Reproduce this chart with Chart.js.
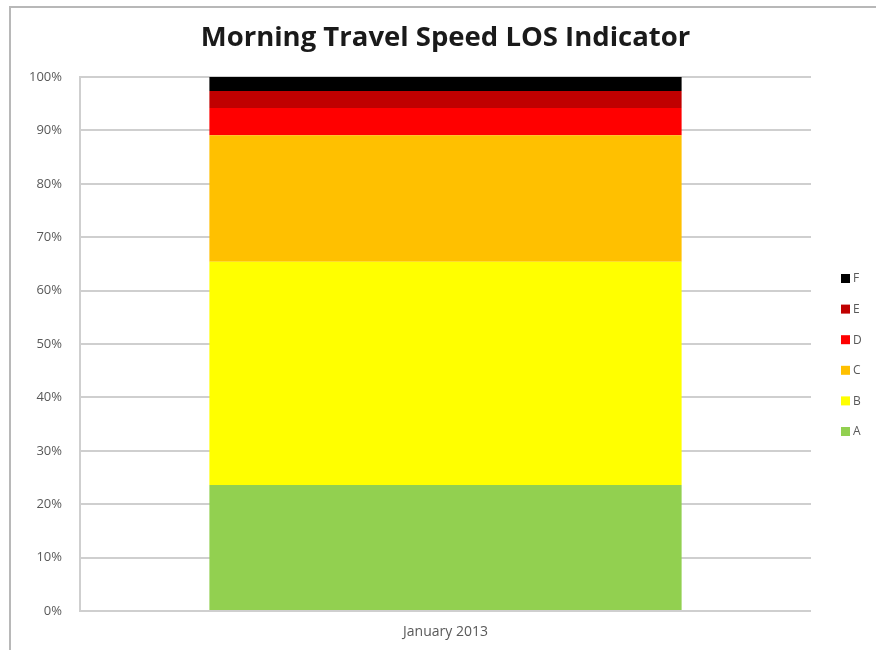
<!DOCTYPE html>
<html>
<head>
<meta charset="utf-8">
<script src="https://cdn.jsdelivr.net/npm/chart.js@4"></script>
<style>
  html, body { margin: 0; padding: 0; background: #fff; }
  #wrap { position: relative; width: 876px; height: 650px; }
  #frame { position: absolute; left: 9px; top: 6px; right: -4px; bottom: -4px;
           border-left: 2px solid #b8b8b8; border-top: 2px solid #b8b8b8; }
  canvas { position: absolute; left: 0; top: 0; }
</style>
</head>
<body>
<div id="wrap">
  <div id="frame"></div>
  <canvas id="barChart" width="876" height="650"></canvas>
</div>
<script>
// données (part en % de chaque niveau de service)
const categories = ["January 2013"];
const niveaux = ["A", "B", "C", "D", "E", "F"];
const couleurs = ["#92d050", "#ffff00", "#ffc000", "#ff0000", "#c00000", "#000000"];
const valA = [23.6];
const valB = [41.8];
const valC = [23.7];
const valD = [5.1];
const valE = [3.2];
const valF = [2.6];
const tickLabels = [0, 10, 20, 30, 40, 50, 60, 70, 80, 90, 100];

const series = [valA, valB, valC, valD, valE, valF];
const texte = "#595959";
const grille = "#cfcfcf";

// légende à droite, dessinée à la main (F en haut, A en bas)
const legendeDroite = {
    id: "legendeDroite",
    afterDraw(chart) {
        const ctx = chart.ctx;
        const ds = chart.data.datasets.slice().reverse();
        ctx.save();
        ctx.font = "12px 'Open Sans'";
        ctx.textBaseline = "middle";
        ds.forEach((d, i) => {
            const y = 278 + i * 30.6;
            ctx.fillStyle = d.backgroundColor;
            ctx.fillRect(841, y - 4, 9, 9);
            ctx.fillStyle = texte;
            ctx.fillText(d.label, 853, y + 1);
        });
        ctx.restore();
    }
};

const ctx = document.getElementById("barChart");
new Chart(ctx, {
    type: "bar",
    data: {
        labels: categories,
        datasets: niveaux.map((n, i) => ({
            label: n,
            data: series[i],
            backgroundColor: couleurs[i],
            borderWidth: 0,
            categoryPercentage: 1,
            barPercentage: 0.646
        }))
    },
    options: {
        responsive: false,
        animation: false,
        layout: { padding: { left: 10, right: 65, top: 0, bottom: 0 } },
        plugins: {
            legend: { display: false },
            tooltip: { enabled: false },
            title: {
                display: true,
                fullSize: false,
                text: "Morning Travel Speed LOS Indicator",
                color: "#1a1a1a",
                font: { family: "Open Sans", size: 27.5, weight: "bold" },
                padding: { top: 22, bottom: 22 }
            }
        },
        scales: {
            x: {
                stacked: true,
                grid: { display: false, drawTicks: false },
                border: { display: false },
                ticks: { color: texte, font: { family: "Open Sans", size: 14 }, padding: 13 },
                afterFit: (s) => { s.height = 39; }
            },
            y: {
                stacked: true,
                min: 0,
                max: 100,
                afterBuildTicks: (s) => { s.ticks = tickLabels.map(v => ({ value: v })); },
                grid: { color: grille, lineWidth: 2, drawTicks: false },
                border: { display: true, color: grille, width: 2 },
                ticks: {
                    color: texte,
                    font: { family: "Open Sans", size: 13 },
                    padding: 18,
                    callback: (v) => v + "%"
                },
                afterFit: (s) => { s.width = 70; }
            }
        }
    },
    plugins: [legendeDroite]
});
</script>
</body>
</html>
